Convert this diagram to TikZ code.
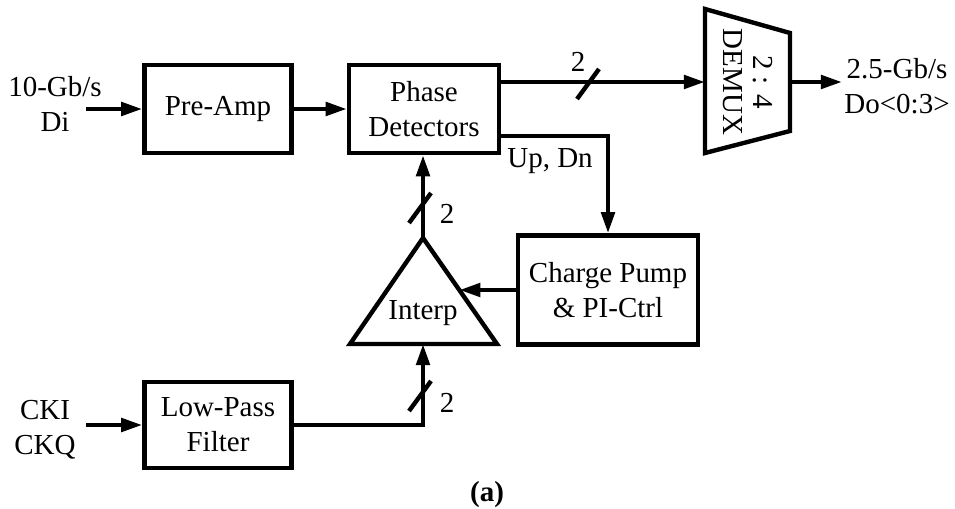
\documentclass[tikz,border=0pt]{standalone}
\usepackage{fontspec}
\setmainfont{Liberation Serif}
\usetikzlibrary{arrows.meta,calc,positioning}
\tikzset{
  blk/.style={draw,line width=2.5pt,align=center,inner sep=2pt},
  sig/.style={-{Triangle[length=12pt,width=7.5pt]},line width=2.5pt},
  wire/.style={line width=2.5pt,line join=miter},
  bus/.style={line width=2.5pt},
  lbl/.style={align=center,inner sep=1pt},
  every node/.style={font=\fontsize{16.5}{20}\selectfont}
}

\begin{document}
\begin{tikzpicture}[x=0.02cm,y=-0.02cm]
\useasboundingbox (0,0) rectangle (955,509);
% blocks
\node[blk,minimum width=2.94cm,minimum height=1.76cm] (pre) at (218,109) {Pre-Amp};
\node[blk,minimum width=3cm,minimum height=1.76cm] (pd) at (424,109) {Phase\\Detectors};
\node[blk,minimum width=3.6cm,minimum height=2.18cm] (cp) at (608,290) {Charge Pump\\\& PI-Ctrl};
\node[blk,minimum width=2.94cm,minimum height=1.72cm] (lpf) at (218,425) {Low-Pass\\Filter};
% interpolator
\coordinate (itop) at (423,238);
\coordinate (ibl) at (350,344);
\coordinate (ibr) at (497,344);
\coordinate (ibase) at (423,344);
\coordinate (iside) at ($(itop)!0.49!(ibr)$);
\draw[wire] (itop) -- (ibr) -- (ibl) -- cycle;
\node (interp) at (423,313) {Interp};
% demux
\coordinate (dtl) at (705,9);
\coordinate (dtr) at (790,33);
\coordinate (dbr) at (790,131);
\coordinate (dbl) at (705,153);
\draw[wire] (dtl) -- (dtr) -- (dbr) -- (dbl) -- cycle;
\node[rotate=-90,align=center,font=\fontsize{16.5}{17}\selectfont] (demux) at (748,82) {2 : 4\\DEMUX};
% labels
\node[lbl] (din) at (55,104) {10-Gb/s\\Di};
\node[lbl] (dout) at (897,86) {2.5-Gb/s\\Do<0:3>};
\node[lbl] (ck) at (45,430) {CKI\\CKQ};
\node (updn) at (550,161) {Up, Dn};
\node[font=\fontsize{16.5}{20}\selectfont\bfseries] (cap) at (487,495) {(a)};
\coordinate (din-e) at (86,109);
\coordinate (ck-e) at (86,425);
\coordinate (dmx-in) at (705,82);
\coordinate (dmx-out) at (790,82);
\coordinate (dout-w) at (842,82);
% connectors
\draw[sig] (din-e) -- (pre.west |- din-e);
\draw[sig] (pre.east) -- (pd.west);
\draw[sig] (pd.east |- dmx-in) -- (dmx-in);
\draw[sig] (dmx-out) -- (dout-w);
\draw[sig] ([yshift=-0.54cm]pd.east) -| (cp.north);
\draw[sig] (cp.west) -- (iside |- cp.west);
\draw[sig] (itop) -- (itop |- pd.south);
\draw[sig] (ck-e) -- (lpf.west |- ck-e);
\draw[sig] (lpf.east) -| (ibase);
% bus marks
\foreach \sx/\sy/\lx/\ly [count=\i] in {588/84/578/62, 420/208/447/214, 420/396/447/403}{
  \draw[bus] ($(\sx,\sy)+(-11,15)$) -- ($(\sx,\sy)+(11,-15)$);
  \node (bw\i) at (\lx,\ly) {2};
}
\end{tikzpicture}
\end{document}
